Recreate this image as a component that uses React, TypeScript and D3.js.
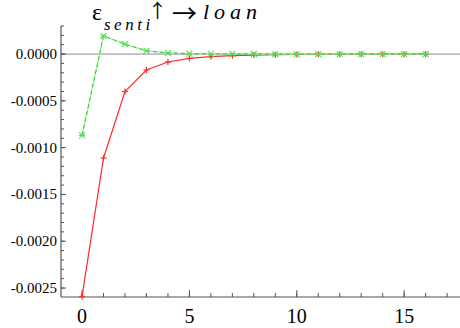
import React from "react";
import * as d3 from "d3";

const periods = [0, 1, 2, 3, 4, 5, 6, 7, 8, 9, 10, 11, 12, 13, 14, 15, 16];
const redSeries = [-0.00259, -0.00111, -0.000401, -0.00017, -0.000085, -0.000046, -0.000028, -0.000017, -0.000011, -0.000007, -0.0000045, -0.000003, -0.000002, -0.0000013, -0.0000009, -0.0000006, -0.0000004];
const greenSeries = [-0.00087, 0.000195, 0.000106, 0.000035, 0.000013, 0.000005, 0.000002, 0.0000012, 0.0000008, 0.0000005, 0.0000003, 0.0000002, 0.0000001, 0.0000001, 0.0000001, 0.0000001, 0.0000001];
const xMajorTicks = [0, 5, 10, 15];
const yMajorTicks = [-0.0025, -0.002, -0.0015, -0.001, -0.0005, 0];

const W = 460, H = 328;
const left = 61, right = 460, top = 26, bottom = 297;

export default function App() {
  const x = d3.scaleLinear().domain([-0.98, 17.6]).range([left, right]);
  const y = d3.scaleLinear().domain([-0.002596, 0.0003]).range([bottom, top]);
  const xMinor = d3.range(-1, 18, 1).filter(v => x(v) >= left && x(v) <= right);
  const yMinor = d3.range(-25, 4, 1).map(v => v * 0.0001);

  const line = d3.line<number>().x((_, i) => x(periods[i])).y(d => y(d));
  const redPath = line(redSeries) || "";
  const greenPath = line(greenSeries) || "";
  const serif = `"Liberation Serif"`;
  const arrowFont = `"Noto Sans CJK SC"`;

  return (
    <div style={{ position: "absolute", left: 0, top: 0 }}>
      <svg width={W} height={H} style={{ display: "block", background: "#fff" }}>
        {/* zero line */}
        <line x1={left} x2={right} y1={y(0)} y2={y(0)} stroke="#8a8a8a" strokeWidth={1} />
        {/* axes */}
        <line x1={left} x2={left} y1={top} y2={bottom} stroke="#555" strokeWidth={1.2} />
        <line x1={left} x2={right} y1={bottom} y2={bottom} stroke="#555" strokeWidth={1.2} />
        {yMinor.map((v, i) => (
          <line key={"ym" + i} x1={left} x2={left + 3} y1={y(v)} y2={y(v)} stroke="#555" strokeWidth={1} />
        ))}
        {yMajorTicks.map((v, i) => (
          <g key={"yM" + i}>
            <line x1={left} x2={left + 5} y1={y(v)} y2={y(v)} stroke="#555" strokeWidth={1} />
            <text x={57} y={y(v) + 5} textAnchor="end" style={{ fontFamily: serif }} fontSize={15} fill="#000">
              {d3.format(".4f")(v).replace("−", "-")}
            </text>
          </g>
        ))}
        {xMinor.map((v, i) => (
          <line key={"xm" + i} x1={x(v)} x2={x(v)} y1={bottom} y2={bottom - 4} stroke="#555" strokeWidth={1} />
        ))}
        {xMajorTicks.map((v, i) => (
          <g key={"xM" + i}>
            <line x1={x(v)} x2={x(v)} y1={bottom} y2={bottom - 7} stroke="#555" strokeWidth={1} />
            <text x={x(v)} y={323} textAnchor="middle" style={{ fontFamily: serif }} fontSize={20} fill="#000">
              {v}
            </text>
          </g>
        ))}
        {/* red series */}
        <path d={redPath} fill="none" stroke="#ff2a2a" strokeWidth={1.2} />
        {redSeries.map((d, i) => (
          <g key={"r" + i} stroke="#ff2a2a" strokeWidth={1.2}>
            <line x1={x(periods[i]) - 3} x2={x(periods[i]) + 3} y1={y(d)} y2={y(d)} />
            <line x1={x(periods[i])} x2={x(periods[i])} y1={y(d) - 3} y2={y(d) + 3} />
          </g>
        ))}
        {/* green series */}
        <path d={greenPath} fill="none" stroke="#9af59a" strokeWidth={1.3} />
        <path d={greenPath} fill="none" stroke="#2ec82e" strokeWidth={1} strokeDasharray="4,3" />
        {greenSeries.map((d, i) => {
          const cx = x(periods[i]), cy = y(d);
          return (
            <g key={"g" + i} stroke="#55dd55" strokeWidth={1.1}>
              <line x1={cx - 3} x2={cx + 3} y1={cy - 3} y2={cy + 3} />
              <line x1={cx - 3} x2={cx + 3} y1={cy + 3} y2={cy - 3} />
              <line x1={cx - 3} x2={cx + 3} y1={cy} y2={cy} />
            </g>
          );
        })}
        {/* title */}
        <text x={92} y={20} style={{ fontFamily: serif }} fontSize={24} fill="#000">ε</text>
        <text x={104} y={30} style={{ fontFamily: serif }} fontSize={17} fontStyle="italic" letterSpacing={3.5} fill="#000">senti</text>
        <text x={148} y={18} style={{ fontFamily: arrowFont }} fontSize={19} fill="#000">↑</text>
        <text x={172} y={23} style={{ fontFamily: arrowFont }} fontSize={25} fill="#000">→</text>
        <text x={203} y={19} style={{ fontFamily: serif }} fontSize={22} fontStyle="italic" letterSpacing={5} fill="#000">loan</text>
      </svg>
    </div>
  );
}
